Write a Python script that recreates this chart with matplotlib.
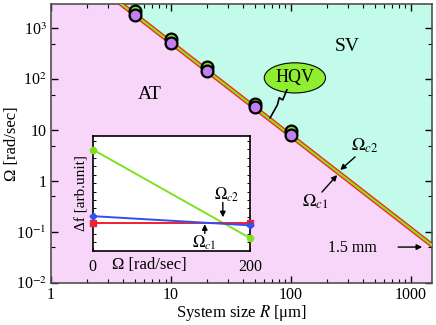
import numpy as np
import matplotlib
matplotlib.use("Agg")
import matplotlib.pyplot as plt
from matplotlib.ticker import FixedLocator, NullFormatter

plt.rcParams["font.family"] = ["Liberation Serif", "DejaVu Serif"]
plt.rcParams["mathtext.fontset"] = "stix"

# main panel data
size_R = [5, 10, 20, 50, 100]
omega_c2 = [2150, 610, 170, 33, 9.5]
omega_c1 = [1800, 510, 144, 28, 8.0]
line_R = [1, 1500]
line_omega = [3.5e4, 0.055]

# inset data
inset_omega = [0, 200]
df_green = [0.88, 0.11]
df_blue = [0.30, 0.22]
df_red = [0.24, 0.24]

pink = "#f8d6fa"
cyan = "#c2fbea"

fig = plt.figure(figsize=(4.36, 3.25), dpi=100)
ax = fig.add_axes([0.117, 0.129, 0.874, 0.859])
ax.set_xscale("log")
ax.set_yscale("log")
ax.set_xlim(1, 1500)
ax.set_ylim(0.01, 3000)

ax.fill_between(line_R, line_omega, 1e6, color=cyan, lw=0, zorder=0)
ax.fill_between(line_R, 1e-6, line_omega, color=pink, lw=0, zorder=0)
ax.plot(line_R, line_omega, color="#ff2020", lw=3.4, zorder=2, solid_capstyle="butt")
ax.plot(line_R, line_omega, color="#88e020", lw=1.6, zorder=3, solid_capstyle="butt")

ax.plot(size_R, omega_c2, "o", ms=8.5, mfc="#7ee030", mec="black", mew=1.6, zorder=4, clip_on=False)
ax.plot(size_R, omega_c1, "o", ms=8.5, mfc="#c080f0", mec="black", mew=1.6, zorder=5, clip_on=False)

ax.set_xticks([1, 10, 100, 1000])
ax.set_xticklabels(["1", "10", "100", "1000"])
ax.set_yticks([0.01, 0.1, 1, 10, 100, 1000])
ax.set_yticklabels([r"10$^{-2}$", r"10$^{-1}$", "1", "10", r"10$^{2}$", r"10$^{3}$"])
ax.yaxis.set_minor_locator(FixedLocator([0.05, 0.5, 5, 50, 500]))
ax.yaxis.set_minor_formatter(NullFormatter())
ax.tick_params(which="both", direction="in", top=True, right=True, labelsize=11.5, pad=3)
ax.tick_params(which="major", length=5, width=1)
ax.tick_params(which="minor", length=3, width=0.8)
for s in ax.spines.values():
    s.set_linewidth(1.2)
    s.set_color("#505050")

ax.set_xlabel(r"System size $R$ [μm]", fontsize=12, labelpad=0)
ax.set_ylabel("Ω [rad/sec]", fontsize=12, labelpad=-3)

ax.text(0.26, 0.674, "AT", transform=ax.transAxes, fontsize=14, ha="center", va="center")
ax.text(0.777, 0.849, "SV", transform=ax.transAxes, fontsize=14, ha="center", va="center")
ax.text(0.640, 0.735, "HQV", transform=ax.transAxes, fontsize=13, ha="center", va="center",
        zorder=6, bbox=dict(boxstyle="ellipse,pad=0.12", fc="#90ee30", ec="black", lw=0.8))
zig_x = [0.619, 0.608, 0.599, 0.594, 0.575]
zig_y = [0.692, 0.656, 0.664, 0.638, 0.592]
ax.plot(zig_x, zig_y, color="black", lw=1.2, transform=ax.transAxes, zorder=6)

arrow = dict(arrowstyle="-|>", color="black", lw=1.0, mutation_scale=8, shrinkA=0, shrinkB=0)
ax.annotate("", xy=(0.759, 0.405), xytext=(0.798, 0.452), xycoords="axes fraction", arrowprops=arrow)
ax.text(0.822, 0.49, r"$\Omega_{c2}$", transform=ax.transAxes, fontsize=13, ha="center", va="center")
ax.annotate("", xy=(0.751, 0.387), xytext=(0.711, 0.326), xycoords="axes fraction", arrowprops=arrow)
ax.text(0.693, 0.29, r"$\Omega_{c1}$", transform=ax.transAxes, fontsize=13, ha="center", va="center")
ax.annotate("", xy=(0.974, 0.129), xytext=(0.911, 0.129), xycoords="axes fraction", arrowprops=arrow)
ax.text(0.79, 0.125, "1.5 mm", transform=ax.transAxes, fontsize=11.5, ha="center", va="center")

# inset
ins = fig.add_axes([0.213, 0.229, 0.360, 0.353])
ins.set_facecolor("white")
ins.plot(inset_omega, df_green, "-o", color="#80e020", lw=1.4, ms=4.5, clip_on=False, zorder=3)
ins.plot(inset_omega, df_red, "-s", color="#f02030", lw=1.4, ms=4, clip_on=False, zorder=3)
ins.plot(inset_omega, df_blue, "-D", color="#3050f0", lw=1.4, ms=3.5, clip_on=False, zorder=4)
ins.set_xlim(0, 200)
ins.set_ylim(0, 1)
ins.set_xticks([0, 200])
ins.set_xticklabels(["0", "200"])
ins.set_yticks(np.arange(0.0735, 1, 0.0735))
ins.set_yticklabels([])
ins.tick_params(direction="in", right=True, left=True, labelsize=11.5, length=2.5, width=0.7, pad=6)
for s in ins.spines.values():
    s.set_linewidth(1.2)
    s.set_color("black")
ins.text(0.36, -0.125, "Ω [rad/sec]", transform=ins.transAxes, fontsize=12, ha="center", va="center")
ins.set_ylabel("Δf [arb.unit]", fontsize=11, labelpad=-3)

ins.annotate("", xy=(0.828, 0.29), xytext=(0.828, 0.42), xycoords="axes fraction", arrowprops=arrow)
ins.text(0.854, 0.49, r"$\Omega_{c2}$", transform=ins.transAxes, fontsize=12, ha="center", va="center")
ins.annotate("", xy=(0.713, 0.23), xytext=(0.713, 0.15), xycoords="axes fraction", arrowprops=arrow)
ins.text(0.707, 0.07, r"$\Omega_{c\mathit{1}}$", transform=ins.transAxes, fontsize=12, ha="center", va="center")

fig.savefig("out.png", dpi=100)
